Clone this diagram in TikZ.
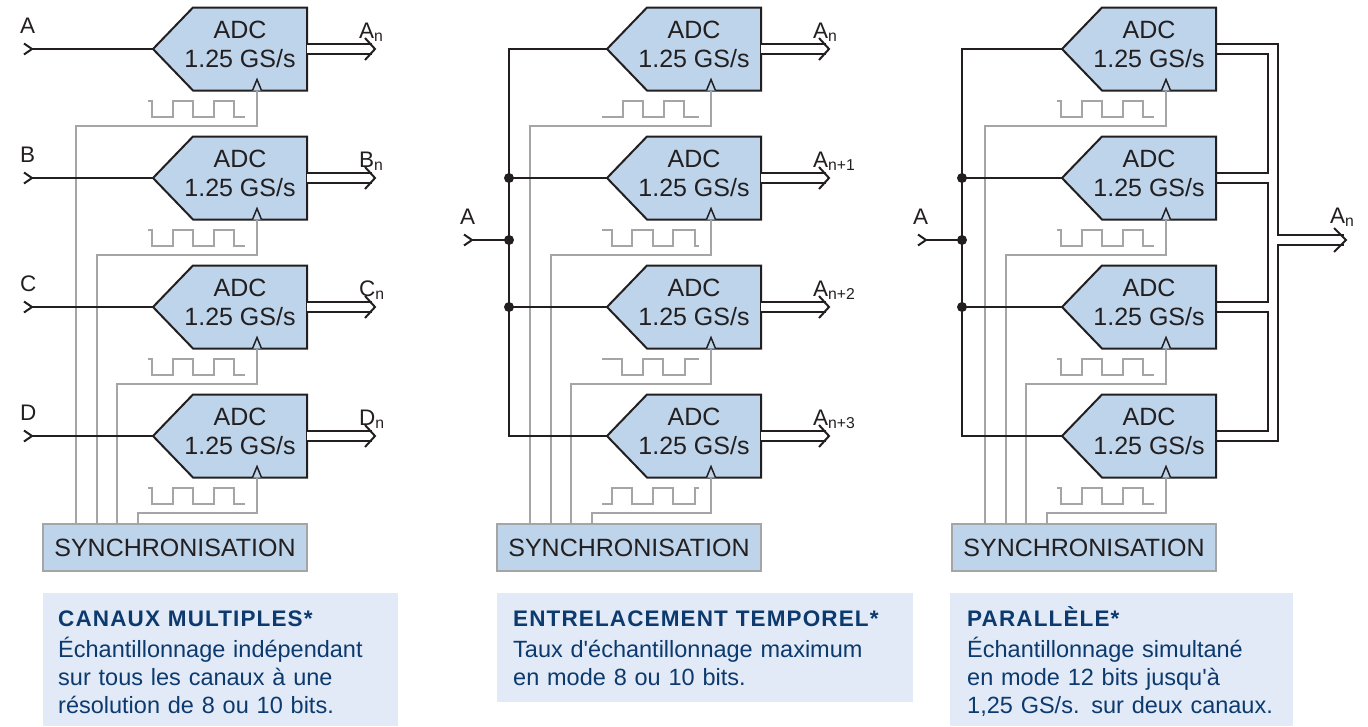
\documentclass[tikz,border=0pt]{standalone}
\usepackage{fontspec}
\setmainfont{Liberation Sans}
\usetikzlibrary{arrows.meta, positioning}

\definecolor{adcfill}{RGB}{189,212,234}
\definecolor{notefill}{RGB}{225,234,246}
\definecolor{navy}{RGB}{12,58,110}
\definecolor{ink}{RGB}{35,31,32}
\definecolor{wire}{RGB}{165,165,165}

\newcommand{\adclabel}{\raisebox{1.5pt}[\height][\depth]{\begin{tabular}{@{}c@{}}ADC\\1.25 GS/s\end{tabular}}}
\newcommand{\notetitle}[1]{{\fontsize{22.5}{28}\selectfont\bfseries\addfontfeature{LetterSpace=5}#1}}

\tikzset{
  sig/.style={draw=ink, line width=2pt},
  inarrow/.style={sig, {Straight Barb[reversed, length=8pt, width=11pt]}-},
  bus/.style={draw=ink, line width=2pt, double=white, double distance=8pt},
  clk/.style={draw=wire, line width=2pt},
  adcbody/.style={draw=ink, line width=2pt, fill=adcfill},
  adc/.style={minimum width=134pt, minimum height=83pt, inner sep=0pt,
    text=ink, font=\fontsize{25}{29}\selectfont},
  clkin/.style={draw=ink, line width=1.5pt, fill=adcfill},
  sync/.style={draw=wire, line width=2pt, fill=adcfill, minimum width=264pt,
    minimum height=47pt, text=ink, font=\fontsize{25}{29}\selectfont},
  lbl/.style={anchor=base west, inner sep=0pt, text=ink,
    font=\fontsize{22.5}{27}\selectfont},
  dot/.style={circle, fill=ink, inner sep=0pt, minimum size=10pt},
  note/.style={fill=notefill, anchor=north west, align=left, inner xsep=15pt,
    inner ysep=0pt, text height=33pt, text=navy, font=\fontsize{23.5}{28}\selectfont}
}

\begin{document}
\begin{tikzpicture}[x=1pt, y=-1pt]
  \useasboundingbox (0,0) rectangle (1368,726);

  % canaux multiples
  \node[sync] (msync) at (175,547.5) {SYNCHRONISATION};
  \foreach \r/\c/\ch in {1/49/A, 2/178/B, 3/307/C, 4/436/D} {
    \pgfmathsetmacro{\wx}{55.5+20.5*\r}
    \draw[adcbody] (193,\c-41.5) -- (307,\c-41.5) -- (307,\c+41.5) -- (193,\c+41.5) -- (153,\c) -- cycle;
    \node[adc] (ma\r) at (240,\c) {\adclabel};
    \coordinate (mk\r) at (257,\c+41.5);
    \coordinate (mw\r) at (\wx,0);
    \draw[clk] (msync.north -| mw\r) |- ([yshift=-35.5pt]mk\r) -- (mk\r);
    \draw[clkin] ([xshift=-4.5pt]mk\r) -- ([yshift=11pt]mk\r) -- ([xshift=4.5pt]mk\r);
    \draw[clk] (148,\c+52) -| (152,\c+68) -| (173,\c+52) -| (193,\c+68) -| (214,\c+52) -| (234,\c+68) -- (245,\c+68);
    \coordinate (min\r) at (23,\c);
    \coordinate (mout\r) at (375,\c);
    \draw[inarrow] (min\r) -- ([xshift=-20pt]ma\r.west);
    \draw[bus] (ma\r.east) -- ([xshift=-3pt]mout\r);
    \draw[sig] ([shift={(-10pt,11pt)}]mout\r) -- (mout\r) -- ([shift={(-10pt,-11pt)}]mout\r);
    \node[lbl] (mlin\r) at (20,\c-16) {\ch};
    \node[lbl] (mlout\r) at (359,\c-11) {\ch\textsubscript{n}};
  }

  % entrelacement temporel
  \begin{scope}[xshift=454pt]
    \node[sync] (tsync) at (175,547.5) {SYNCHRONISATION};
    \foreach \r/\c/\sub in {1/49/n, 2/178/n+1, 3/307/n+2, 4/436/n+3} {
      \pgfmathsetmacro{\wx}{55.5+20.5*\r}
      \draw[adcbody] (193,\c-41.5) -- (307,\c-41.5) -- (307,\c+41.5) -- (193,\c+41.5) -- (153,\c) -- cycle;
      \node[adc] (ta\r) at (240,\c) {\adclabel};
      \coordinate (tk\r) at (257,\c+41.5);
      \coordinate (tw\r) at (\wx,0);
      \draw[clk] (tsync.north -| tw\r) |- ([yshift=-35.5pt]tk\r) -- (tk\r);
      \draw[clkin] ([xshift=-4.5pt]tk\r) -- ([yshift=11pt]tk\r) -- ([xshift=4.5pt]tk\r);
      \coordinate (tout\r) at (375,\c);
      \draw[bus] (ta\r.east) -- ([xshift=-3pt]tout\r);
      \draw[sig] ([shift={(-10pt,11pt)}]tout\r) -- (tout\r) -- ([shift={(-10pt,-11pt)}]tout\r);
      \node[lbl] (tlout\r) at (359,\c-11) {A\textsubscript{\sub}};
    }
    % four clock phases
    \draw[clk] (148,117) -| (169,101) -| (189,117) -| (210,101) -| (230,117) -- (245,117);
    \draw[clk] (148,230) -| (158,246) -| (178,230) -| (199,246) -| (219,230) -| (241,246) -- (245,246);
    \draw[clk] (148,359) -| (168,375) -| (189,359) -| (209,375) -| (231,359) -- (245,359);
    \draw[clk] (148,504) -| (158,488) -| (178,504) -| (199,488) -| (219,504) -| (241,488) -- (245,488);
    \coordinate (tin) at (9,240);
    \coordinate (tj0) at (55,240);
    \coordinate (tj2) at (55,178);
    \coordinate (tj3) at (55,307);
    \draw[inarrow] (tin) -- (tj0);
    \draw[sig] ([xshift=-20pt]ta1.west) -| (tj2) -- (tj3) |- ([xshift=-20pt]ta4.west);
    \draw[sig] (tj2) -- ([xshift=-20pt]ta2.west);
    \draw[sig] (tj3) -- ([xshift=-20pt]ta3.west);
    \node[dot] (tdot0) at (tj0) {};
    \node[dot] (tdot2) at (tj2) {};
    \node[dot] (tdot3) at (tj3) {};
    \node[lbl] (tlin) at (6,224) {A};
  \end{scope}

  % parallele
  \begin{scope}[xshift=909pt]
    \node[sync] (psync) at (175,547.5) {SYNCHRONISATION};
    \foreach \r/\c in {1/49, 2/178, 3/307, 4/436} {
      \pgfmathsetmacro{\wx}{55.5+20.5*\r}
      \draw[adcbody] (193,\c-41.5) -- (307,\c-41.5) -- (307,\c+41.5) -- (193,\c+41.5) -- (153,\c) -- cycle;
      \node[adc] (pa\r) at (240,\c) {\adclabel};
      \coordinate (pk\r) at (257,\c+41.5);
      \coordinate (pw\r) at (\wx,0);
      \draw[clk] (psync.north -| pw\r) |- ([yshift=-35.5pt]pk\r) -- (pk\r);
      \draw[clkin] ([xshift=-4.5pt]pk\r) -- ([yshift=11pt]pk\r) -- ([xshift=4.5pt]pk\r);
      \draw[clk] (148,\c+52) -| (152,\c+68) -| (173,\c+52) -| (193,\c+68) -| (214,\c+52) -| (234,\c+68) -- (245,\c+68);
    }
    \coordinate (pin) at (8,240);
    \coordinate (pj0) at (53,240);
    \coordinate (pj2) at (53,178);
    \coordinate (pj3) at (53,307);
    \draw[inarrow] (pin) -- (pj0);
    \draw[sig] ([xshift=-20pt]pa1.west) -| (pj2) -- (pj3) |- ([xshift=-20pt]pa4.west);
    \draw[sig] (pj2) -- ([xshift=-20pt]pa2.west);
    \draw[sig] (pj3) -- ([xshift=-20pt]pa3.west);
    \node[dot] (pdot0) at (pj0) {};
    \node[dot] (pdot2) at (pj2) {};
    \node[dot] (pdot3) at (pj3) {};
    \node[lbl] (plin) at (4,224) {A};
    % combined output bus
    \coordinate (pout) at (437,240);
    \draw[sig] ([yshift=5pt]pa1.east) -- ++(62,0) |- ([shift={(-2pt,5pt)}]pout);
    \draw[sig] ([yshift=-5pt]pa4.east) -- ++(62,0) |- ([shift={(-2pt,-5pt)}]pout);
    \draw[sig] ([yshift=-5pt]pa1.east) -- ++(52,0) |- ([yshift=5pt]pa2.east);
    \draw[sig] ([yshift=-5pt]pa2.east) -- ++(52,0) |- ([yshift=5pt]pa3.east);
    \draw[sig] ([yshift=-5pt]pa3.east) -- ++(52,0) |- ([yshift=5pt]pa4.east);
    \draw[sig] ([shift={(-12pt,12pt)}]pout) -- (pout) -- ([shift={(-12pt,-12pt)}]pout);
    \node[lbl] (plout) at (421,223) {A\textsubscript{n}};
  \end{scope}

  % notes
  \node[note, text width=325pt, text depth=100pt] (mnote) at (43,593)
    {\notetitle{CANAUX MULTIPLES*}\\[3pt]Échantillonnage indépendant\\sur tous les canaux à une\\résolution de 8 ou 10 bits.};
  \node[note, text width=384pt, text depth=76pt, inner xsep=16pt] (tnote) at (497,593)
    {\notetitle{ENTRELACEMENT TEMPOREL*}\\[3pt]Taux d\textquotesingle échantillonnage maximum\\en mode 8 ou 10 bits.};
  \node[note, text width=309pt, text depth=100pt, inner xsep=17pt] (pnote) at (950,593)
    {\notetitle{PARALLÈLE*}\\[3pt]Échantillonnage simultané\\en mode 12 bits jusqu\textquotesingle à\\1,25 GS/s. sur deux canaux.};
\end{tikzpicture}
\end{document}
